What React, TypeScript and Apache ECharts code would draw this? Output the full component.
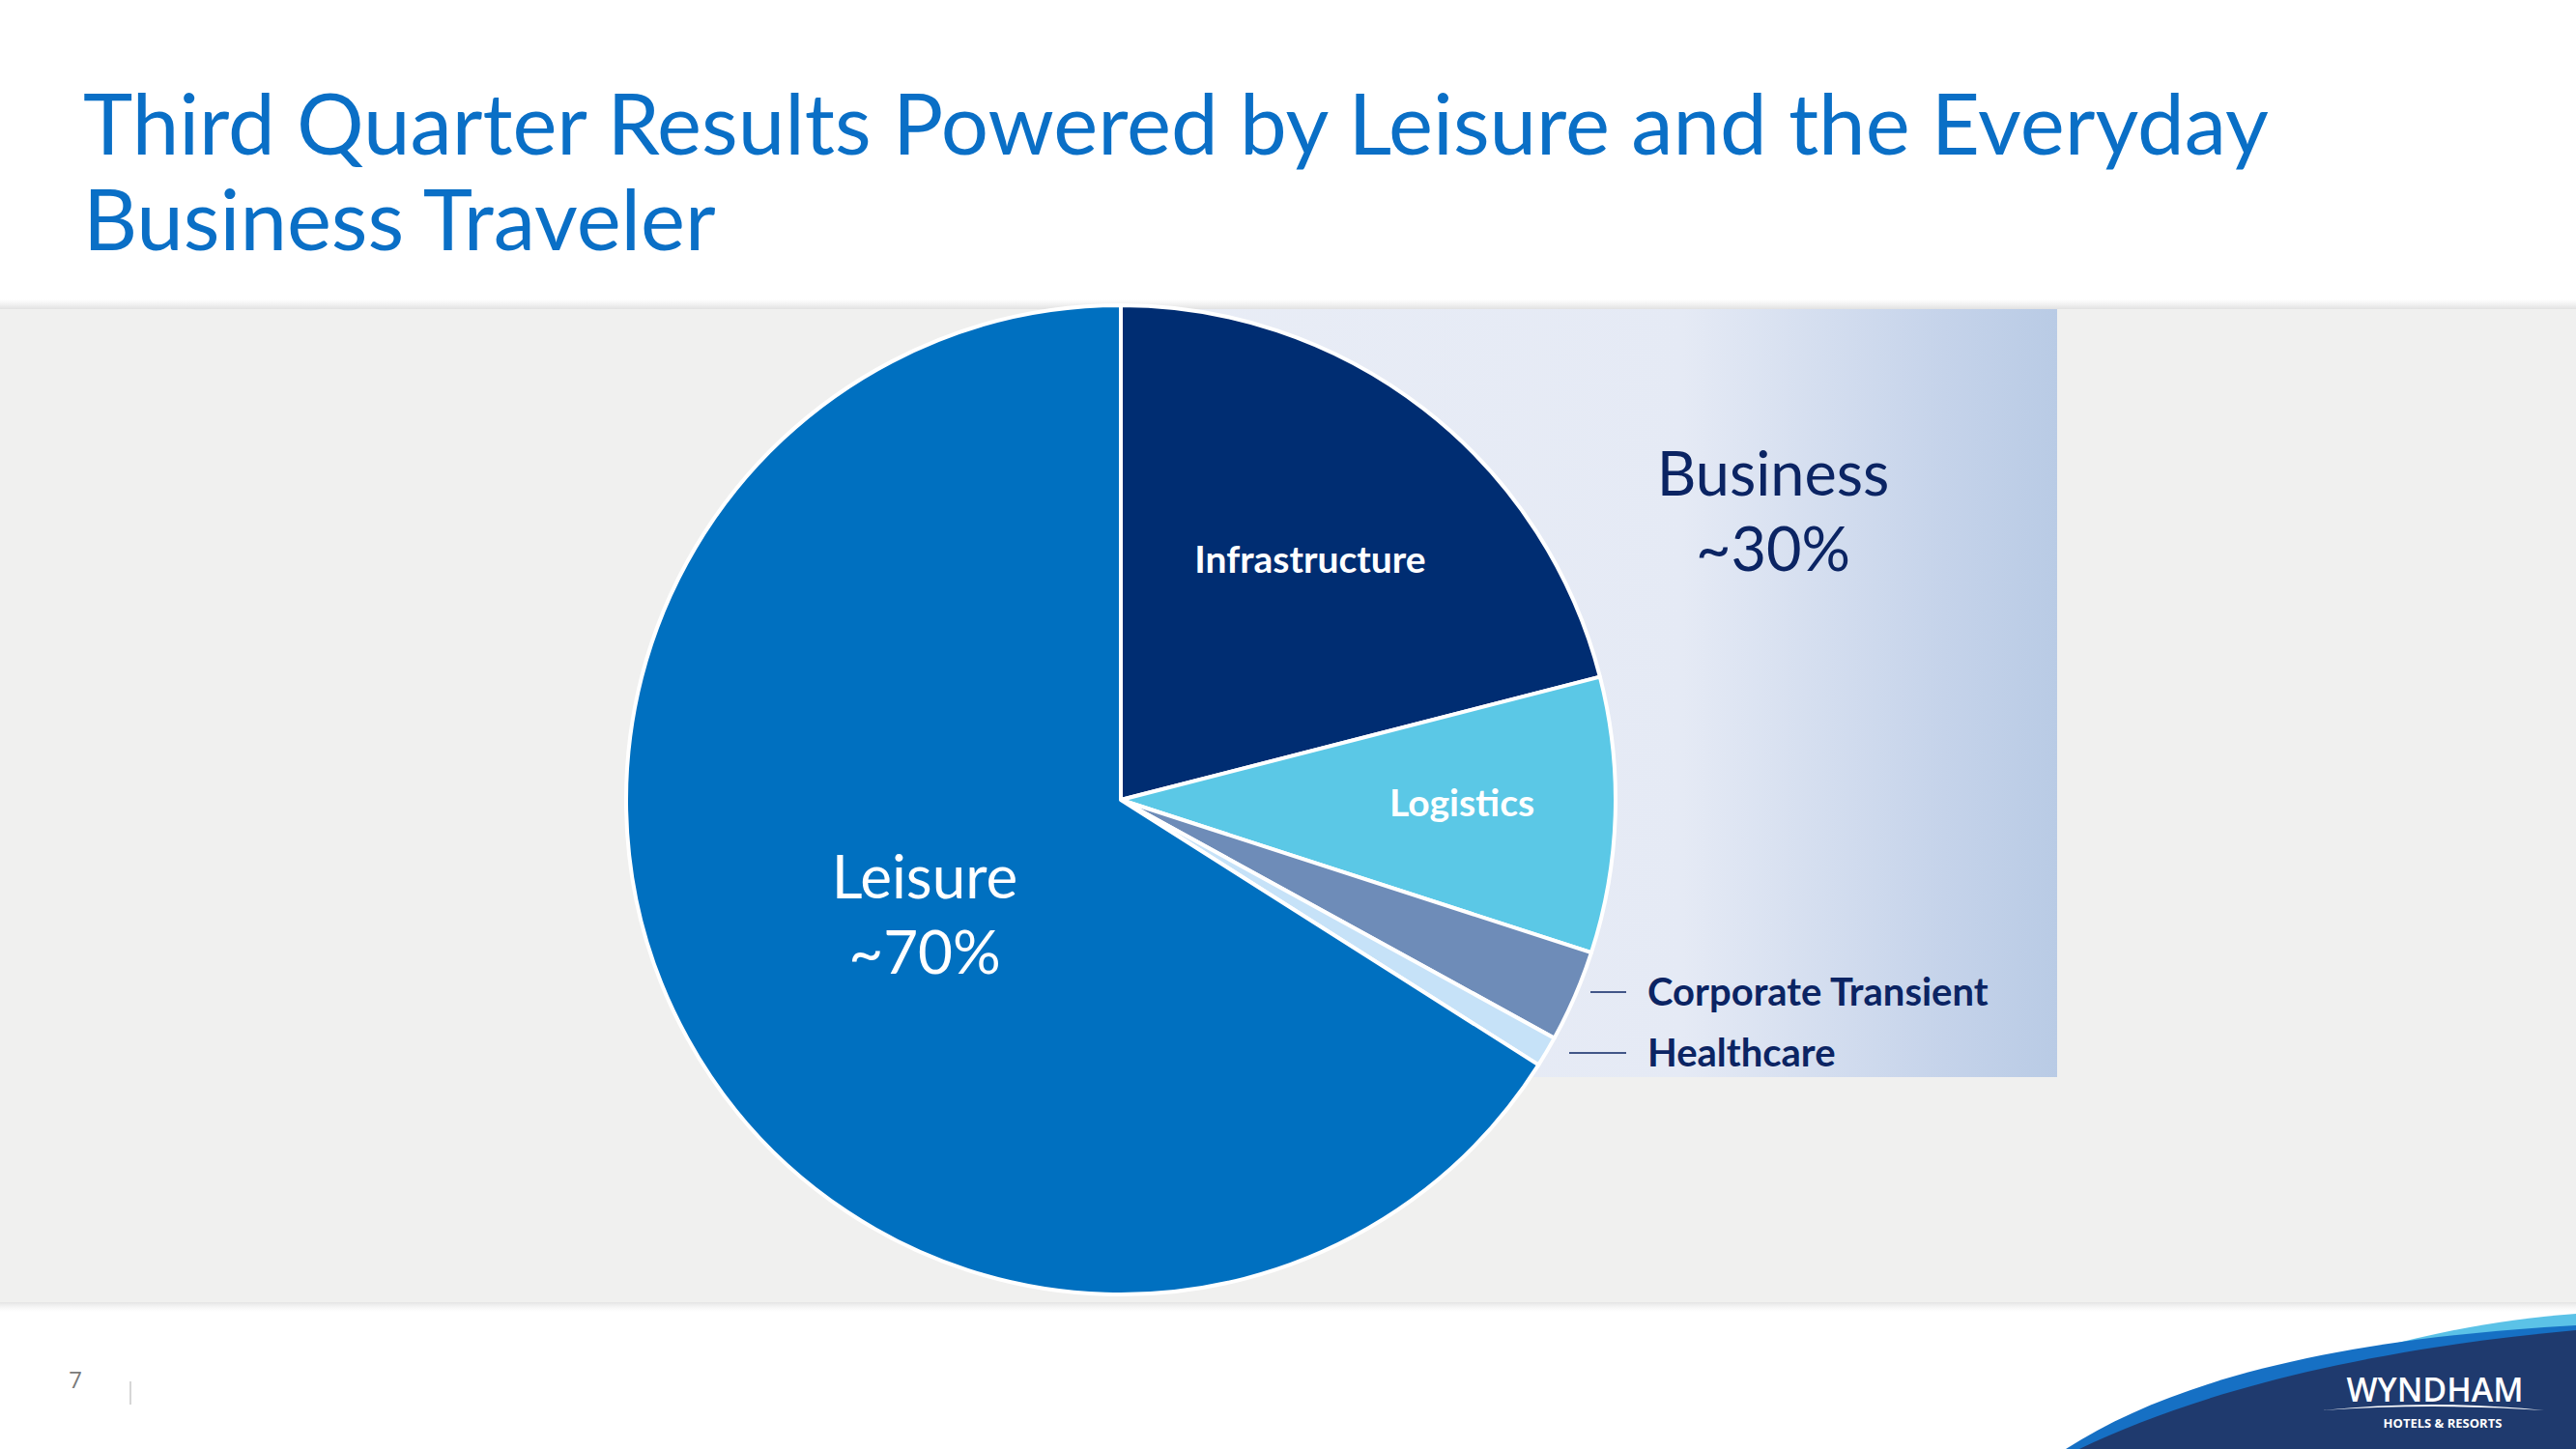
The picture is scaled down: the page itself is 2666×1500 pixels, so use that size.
import React, { useEffect, useRef } from "react";
import * as echarts from "echarts";

const categories = ["Infrastructure", "Logistics", "Corporate Transient", "Healthcare", "Leisure"];
const shares = [21, 9, 3, 1, 66];
const sliceColors = ["#002D72", "#5BC8E6", "#6E8CB8", "#C6E2F8", "#0070C0"];
const titleLines = ["Third Quarter Results Powered by Leisure and the Everyday", "Business Traveler"];
const businessLabel = ["Business", "~30%"];
const leisureLabel = ["Leisure", "~70%"];
const pageNumber = "7";

const W = 2666;
const H = 1500;
const CX = 1160;
const CY = 828;
const R = 512;

export default function App() {
  const ref = useRef<HTMLDivElement>(null);
  useEffect(() => {
    if (!ref.current) return;
    echarts.graphic.registerShape(
      "swooshCyan",
      echarts.graphic.extendPath("M 2370 1425 C 2470 1388 2570 1367 2666 1360 L 2666 1500 L 2370 1500 Z", {})
    );
    echarts.graphic.registerShape(
      "swooshBlue",
      echarts.graphic.extendPath("M 2138 1500 C 2250 1428 2420 1386 2666 1372 L 2666 1500 Z", {})
    );
    echarts.graphic.registerShape(
      "swooshNavy",
      echarts.graphic.extendPath("M 2152 1500 C 2265 1445 2435 1398 2666 1377 L 2666 1500 Z", {})
    );
    echarts.graphic.registerShape(
      "logoArc",
      echarts.graphic.extendPath("M 2403 1460 Q 2518 1448 2633 1460 Q 2518 1452 2403 1460 Z", {})
    );
    const chart = echarts.init(ref.current, undefined, { renderer: "svg", width: W, height: H });
    const font = "Lato, 'Open Sans', sans-serif";
    const pieData = categories.map((name, i) => ({
      name,
      value: shares[i],
      itemStyle: { color: sliceColors[i] },
    }));
    chart.setOption({
      animation: false,
      backgroundColor: "#FFFFFF",
      graphic: [
        {
          type: "rect",
          z: 0,
          shape: { x: 0, y: 310, width: W, height: 10 },
          style: {
            fill: new echarts.graphic.LinearGradient(0, 0, 0, 1, [
              { offset: 0, color: "rgba(230,230,230,0)" },
              { offset: 1, color: "rgba(225,225,225,1)" },
            ]),
          },
        },
        { type: "rect", z: 0, shape: { x: 0, y: 320, width: W, height: 1028 }, style: { fill: "#F0F0EF" } },
        {
          type: "rect",
          z: 0,
          shape: { x: 0, y: 1348, width: W, height: 10 },
          style: {
            fill: new echarts.graphic.LinearGradient(0, 0, 0, 1, [
              { offset: 0, color: "rgba(228,228,228,1)" },
              { offset: 1, color: "rgba(240,240,240,0)" },
            ]),
          },
        },
        {
          type: "rect",
          z: 0,
          shape: { x: CX, y: 320, width: 2129 - CX, height: 1115 - 320 },
          style: {
            fill: new echarts.graphic.LinearGradient(0, 0, 1, 0, [
              { offset: 0, color: "#E9EDF6" },
              { offset: 0.6, color: "#E5EAF5" },
              { offset: 0.88, color: "#C5D3EA" },
              { offset: 1, color: "#B9CBE5" },
            ]),
          },
        },
        ...titleLines.map((t, i) => ({
          type: "text",
          z: 10,
          style: {
            text: t,
            x: 86,
            y: 126 + i * 99,
            fill: "#0A6FC6",
            fontSize: 87,
            fontFamily: font,
            textAlign: "left",
            textVerticalAlign: "middle",
          },
        })),
        {
          type: "text",
          z: 10,
          style: {
            text: categories[0],
            x: 1356,
            y: 578,
            fill: "#FFFFFF",
            fontSize: 39,
            fontWeight: "bold",
            fontFamily: font,
            textAlign: "center",
            textVerticalAlign: "middle",
          },
        },
        {
          type: "text",
          z: 10,
          style: {
            text: categories[1],
            x: 1513,
            y: 830,
            fill: "#FFFFFF",
            fontSize: 39,
            fontWeight: "bold",
            fontFamily: font,
            textAlign: "center",
            textVerticalAlign: "middle",
          },
        },
        ...leisureLabel.map((t, i) => ({
          type: "text",
          z: 10,
          style: {
            text: t,
            x: 957,
            y: 906 + i * 78,
            fill: "#FFFFFF",
            fontSize: 62,
            fontFamily: font,
            textAlign: "center",
            textVerticalAlign: "middle",
          },
        })),
        ...businessLabel.map((t, i) => ({
          type: "text",
          z: 10,
          style: {
            text: t,
            x: 1835,
            y: 488 + i * 78,
            fill: "#0B2463",
            fontSize: 63,
            fontFamily: font,
            textAlign: "center",
            textVerticalAlign: "middle",
          },
        })),
        { type: "line", z: 10, shape: { x1: 1646, y1: 1027, x2: 1683, y2: 1027 }, style: { stroke: "#0B2463", lineWidth: 1.5 } },
        { type: "line", z: 10, shape: { x1: 1624, y1: 1090, x2: 1683, y2: 1090 }, style: { stroke: "#0B2463", lineWidth: 1.5 } },
        {
          type: "text",
          z: 10,
          style: {
            text: categories[2],
            x: 1705,
            y: 1026,
            fill: "#0B2463",
            fontSize: 40,
            fontWeight: "bold",
            fontFamily: font,
            textAlign: "left",
            textVerticalAlign: "middle",
          },
        },
        {
          type: "text",
          z: 10,
          style: {
            text: categories[3],
            x: 1705,
            y: 1089,
            fill: "#0B2463",
            fontSize: 40,
            fontWeight: "bold",
            fontFamily: font,
            textAlign: "left",
            textVerticalAlign: "middle",
          },
        },
        {
          type: "text",
          z: 10,
          style: {
            text: pageNumber,
            x: 78,
            y: 1427,
            fill: "#7A7A7A",
            fontSize: 24,
            fontFamily: "'Open Sans', sans-serif",
            textAlign: "center",
            textVerticalAlign: "middle",
          },
        },
        { type: "line", z: 10, shape: { x1: 135, y1: 1430, x2: 135, y2: 1454 }, style: { stroke: "#C8C8C8", lineWidth: 1.5 } },
        { type: "swooshCyan", z: 5, x: 0, y: 0, style: { fill: "#5BC2E7" } },
        { type: "swooshBlue", z: 6, x: 0, y: 0, style: { fill: "#1670C4" } },
        { type: "swooshNavy", z: 7, x: 0, y: 0, style: { fill: "#1F3A6E" } },
        { type: "logoArc", z: 8, x: 0, y: 0, style: { fill: "#FFFFFF" } },
        {
          type: "text",
          z: 10,
          style: {
            text: "WYNDHAM",
            x: 2520,
            y: 1438,
            fill: "#FFFFFF",
            fontSize: 34,
            fontWeight: 600,
            fontFamily: "'Open Sans', sans-serif",
            textAlign: "center",
            textVerticalAlign: "middle",
          },
        },
        {
          type: "text",
          z: 10,
          style: {
            text: "HOTELS & RESORTS",
            x: 2528,
            y: 1473,
            fill: "#FFFFFF",
            fontSize: 13,
            fontWeight: "bold",
            fontFamily: "'Open Sans', sans-serif",
            textAlign: "center",
            textVerticalAlign: "middle",
          },
        },
      ],
      series: [
        {
          type: "pie",
          z: 2,
          center: [CX, CY],
          radius: R,
          startAngle: 90,
          clockwise: true,
          silent: true,
          label: { show: false },
          labelLine: { show: false },
          emphasis: { disabled: true },
          itemStyle: { borderColor: "#FFFFFF", borderWidth: 4 },
          data: pieData,
        },
      ],
    });
    return () => chart.dispose();
  }, []);
  return <div ref={ref} style={{ position: "fixed", left: 0, top: 0, width: W, height: H }} />;
}
